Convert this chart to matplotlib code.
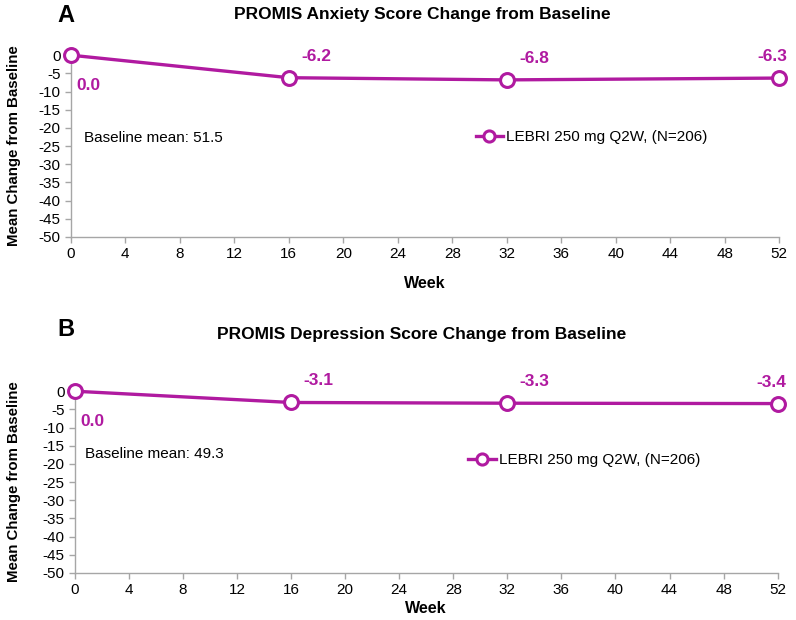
import matplotlib
matplotlib.use("Agg")
import matplotlib.pyplot as plt

plt.rcParams['font.family'] = ['Liberation Sans', 'DejaVu Sans']
plt.rcParams['axes.unicode_minus'] = False

weeks = [0, 16, 32, 52]
anxiety = [0.0, -6.2, -6.8, -6.3]
depression = [0.0, -3.1, -3.3, -3.4]
anx_labels = ["0.0", "-6.2", "-6.8", "-6.3"]
dep_labels = ["0.0", "-3.1", "-3.3", "-3.4"]
series_name = "LEBRI 250 mg Q2W, (N=206)"

PURPLE = "#B01AA0"
GREY = "#A6A6A6"

fig = plt.figure(figsize=(7.96, 6.2), dpi=100)


def panel(rect, vals, labels, title, letter, title_y, letter_y, baseline, base_xy, leg_pos,
          ylab_x, xpad):
    ax = fig.add_axes(rect)
    ax.plot(weeks, vals, color=PURPLE, lw=2.4, marker='o', ms=10, mfc='white',
            mec=PURPLE, mew=2.2, clip_on=False, zorder=5, label=series_name)
    ax.set_xlim(0, 52)
    ax.set_ylim(-50, 0)
    ax.set_xticks(range(0, 53, 4))
    ax.set_yticks(range(-50, 1, 5))
    ax.tick_params(axis='both', labelsize=11, color=GREY, length=4, width=1)
    for s in ['top', 'right']:
        ax.spines[s].set_visible(False)
    for s in ['left', 'bottom']:
        ax.spines[s].set_color(GREY)
        ax.spines[s].set_linewidth(1)
    ax.set_xlabel("Week", fontsize=11.5, fontweight='bold', labelpad=xpad)
    ax.set_ylabel("Mean Change from Baseline", fontsize=10.8, fontweight='bold')
    ax.yaxis.set_label_coords(ylab_x, 0.5)
    # value labels
    ax.annotate(labels[0], (weeks[0], vals[0]), xytext=(4, -22), textcoords='offset points',
                color=PURPLE, fontsize=12.5, fontweight='bold', ha='left', va='center')
    for x, y, t in zip(weeks[1:-1], vals[1:-1], labels[1:-1]):
        ax.annotate(t, (x, y), xytext=(9, 15.5), textcoords='offset points',
                    color=PURPLE, fontsize=12.5, fontweight='bold', ha='left', va='center')
    ax.annotate(labels[-1], (weeks[-1], vals[-1]), xytext=(6, 15.5), textcoords='offset points',
                color=PURPLE, fontsize=12.5, fontweight='bold', ha='right', va='center')
    ax.text(base_xy[0], base_xy[1], "Baseline mean: " + baseline, fontsize=11, va='center')
    ax.legend(loc='center', bbox_to_anchor=leg_pos, frameon=False, fontsize=11,
              handlelength=1.8, handletextpad=0.2, markerscale=0.8)
    fig.text(0.53, title_y, title, ha='center', va='center', fontsize=12.5, fontweight='bold')
    fig.text(0.072, letter_y, letter, ha='left', va='center', fontsize=17, fontweight='bold')
    return ax


panel([0.089, 0.618, 0.890, 0.293], anxiety, anx_labels,
      "PROMIS Anxiety Score Change from Baseline", "A", 1 - 14 / 620, 1 - 16 / 620,
      "51.5", (1.0, -22.7), (0.735, 0.55), -0.071, 10.5)
panel([0.094, 0.076, 0.883, 0.293], depression, dep_labels,
      "PROMIS Depression Score Change from Baseline", "B", 1 - 334 / 620, 1 - 329 / 620,
      "49.3", (0.75, -17.4), (0.725, 0.62), -0.077, 3)

fig.savefig("out.png", dpi=100)
